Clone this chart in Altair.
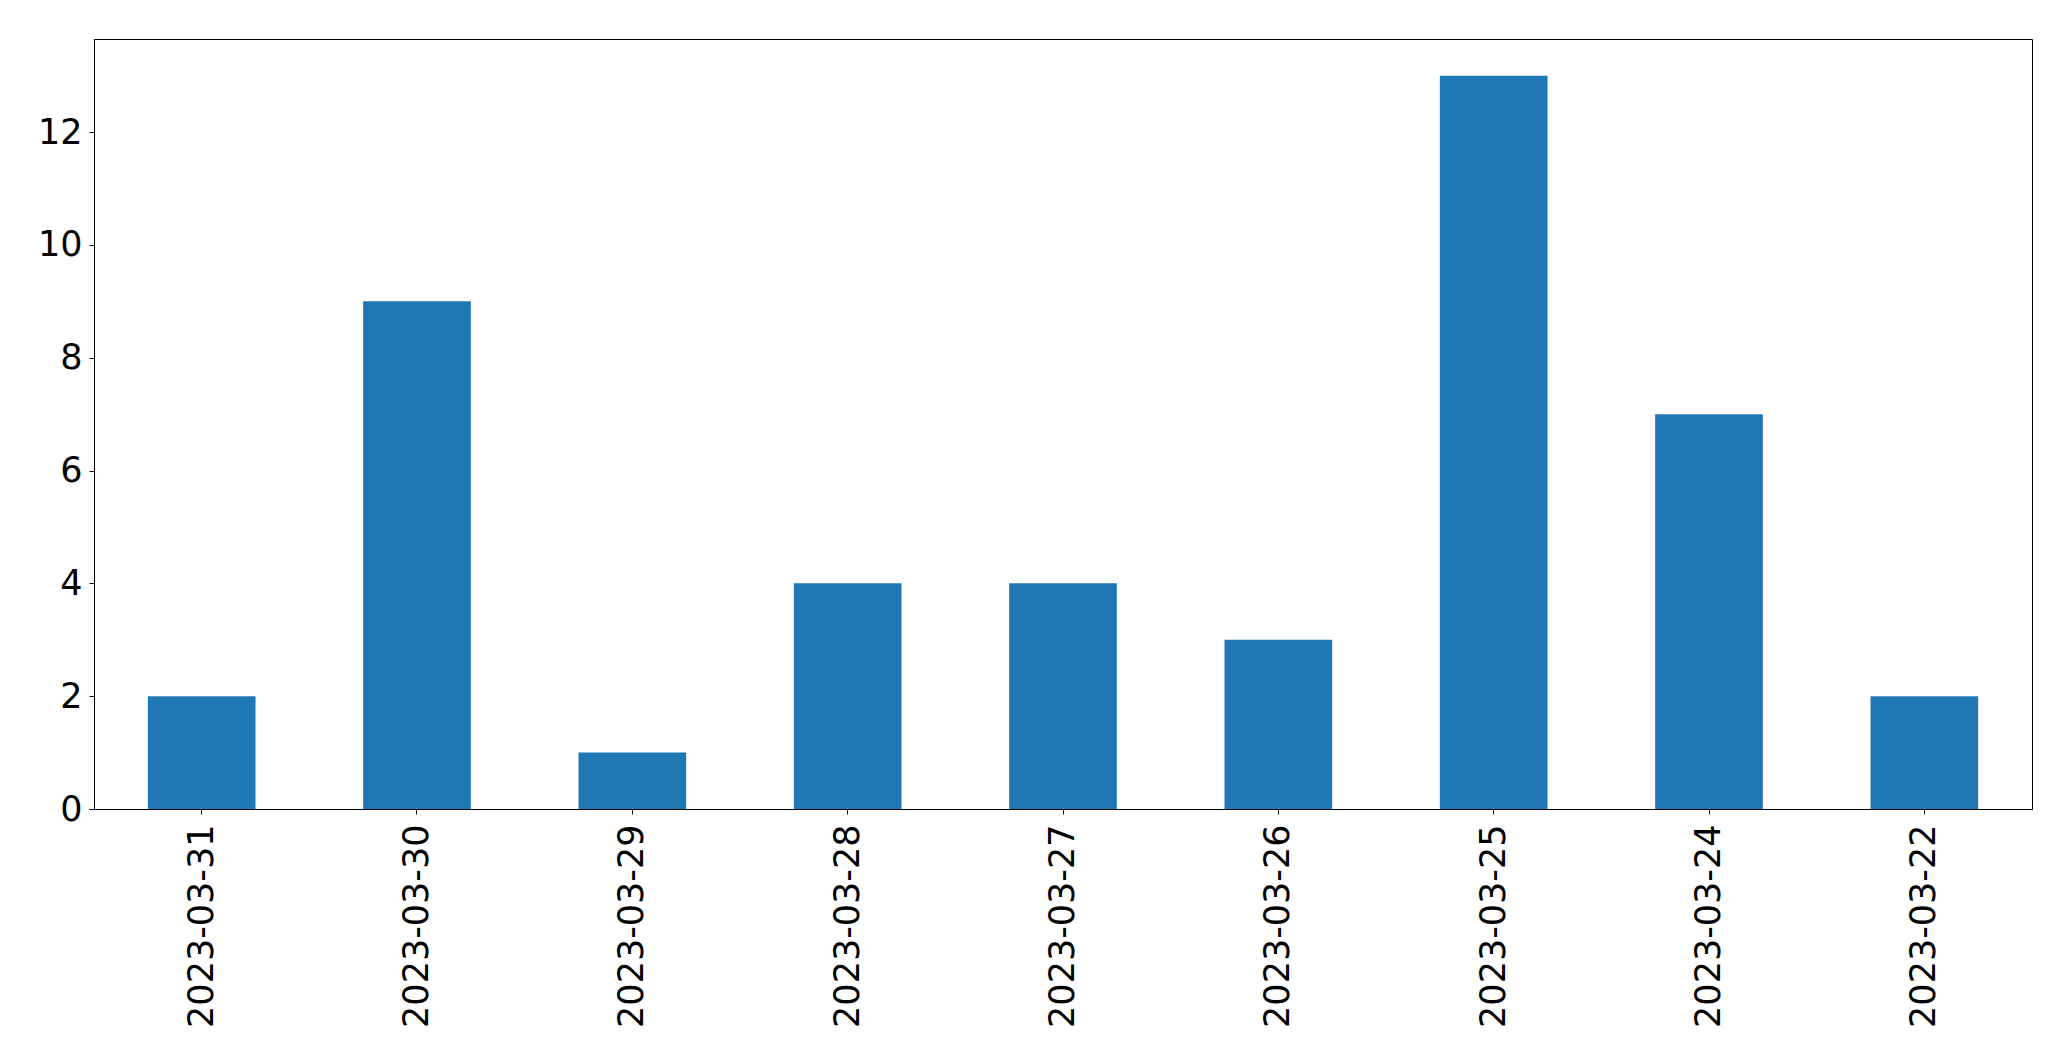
import altair as alt
import pandas as pd

dates = ["2023-03-31", "2023-03-30", "2023-03-29", "2023-03-28", "2023-03-27",
         "2023-03-26", "2023-03-25", "2023-03-24", "2023-03-22"]
counts = [2, 9, 1, 4, 4, 3, 13, 7, 2]
y_ticks = [0, 2, 4, 6, 8, 10, 12]

df = pd.DataFrame({"date": dates, "count": counts})

FONT = "DejaVu Sans"

chart = alt.Chart(df).mark_bar(color="#1f77b4").encode(
    x=alt.X("date:N", sort=None, title=None,
            scale=alt.Scale(paddingInner=0.5, paddingOuter=0.25),
            axis=alt.Axis(labelAngle=-90, labelFontSize=35, labelFont=FONT,
                          labelColor="black", tickColor="black", tickSize=5,
                          domainColor="black", domainWidth=1, labelPadding=10,
                          grid=False, labelLimit=0,
                          labelBaseline="middle", labelAlign="right")),
    y=alt.Y("count:Q", title=None,
            scale=alt.Scale(domain=[0, 13.65], nice=False),
            axis=alt.Axis(values=y_ticks, labelFontSize=35, labelFont=FONT,
                          labelColor="black", tickColor="black", tickSize=5,
                          domainColor="black", domainWidth=1, labelPadding=7,
                          grid=False)),
).properties(
    width=1938, height=770,
    background="white",
    autosize=alt.AutoSizeParams(type="none"),
    padding={"left": 86, "top": 31, "right": 30, "bottom": 240},
).configure_view(
    stroke="black", strokeWidth=1
)

chart.save("out.html", embed_options={"renderer": "svg", "actions": False})
